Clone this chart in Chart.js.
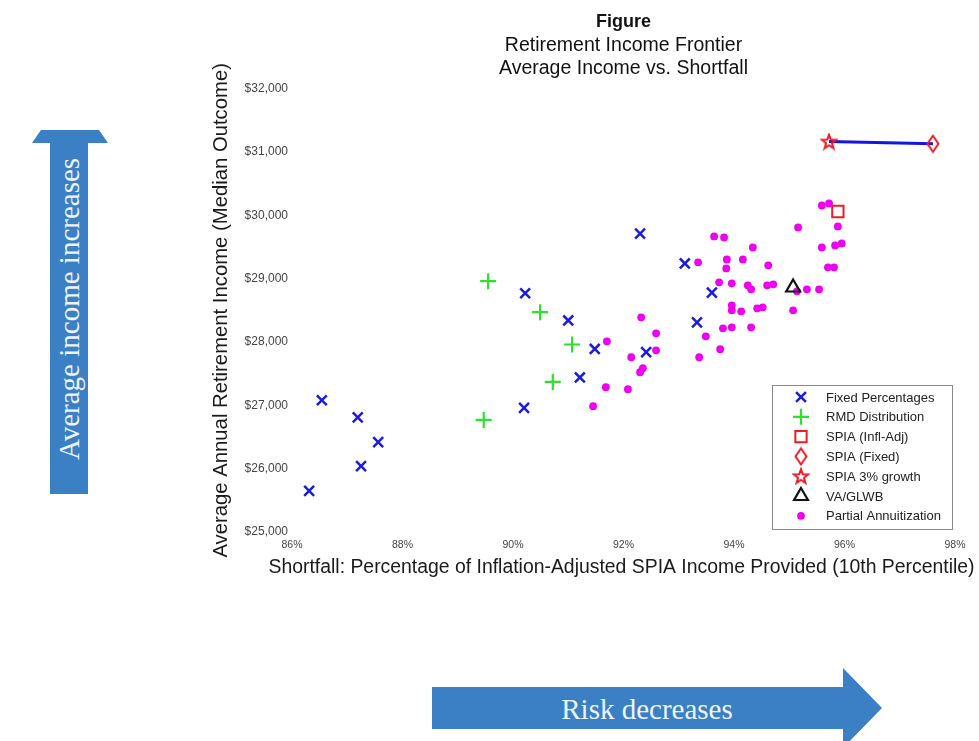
<!DOCTYPE html>
<html>
<head>
<meta charset="utf-8">
<title>Retirement Income Frontier</title>
<script src="https://cdn.jsdelivr.net/npm/chart.js"></script>
<style>
  html, body { margin: 0; padding: 0; background: #fff; }
  #wrap { position: relative; width: 979px; height: 741px; overflow: hidden; }
  #wrap svg, #wrap canvas { position: absolute; left: 0; top: 0; }
  .arrowText { font-family: "Liberation Serif", "DejaVu Serif", serif; fill: #eef4fb; }
</style>
</head>
<body>
<div id="wrap">
  <svg width="979" height="741">
    <!-- flecha vertical -->
    <polygon points="32,143 41,130 99,130 108,143 88,143 88,494 50,494 50,143" fill="#3b7fc4"/>
    <text class="arrowText" font-size="29" text-anchor="middle" dominant-baseline="central"
          transform="translate(69,309) rotate(-90)">Average income increases</text>
    <!-- flecha horizontal -->
    <polygon points="432,687 843,687 843,668 882,708 843,748 843,729 432,729" fill="#3b7fc4"/>
    <text class="arrowText" font-size="29" text-anchor="middle" dominant-baseline="central"
          x="647" y="709">Risk decreases</text>
  </svg>
  <canvas id="chart" width="979" height="741"></canvas>
</div>

<script>
// --- datos ---
const xTicks = [86, 88, 90, 92, 94, 96, 98];
const yTicks = [25000, 26000, 27000, 28000, 29000, 30000, 31000, 32000];

const fixedX = [86.54, 87.19, 87.56, 87.25, 86.31, 90.20, 90.22, 91.00, 91.21, 91.48, 92.30, 92.41, 93.11, 93.60, 93.33];
const fixedY = [27080, 26810, 26420, 26040, 25650, 26960, 28770, 28340, 27440, 27890, 29710, 27840, 29240, 28780, 28310];

const rmdX = [89.55, 90.49, 91.07, 90.72, 89.47];
const rmdY = [28960, 28470, 27960, 27370, 26770];

const inflAdjX = [95.88];
const inflAdjY = [30060];

const spiaFixedX = [97.60];
const spiaFixedY = [31130];

const growthX = [95.72];
const growthY = [31165];

const vaX = [95.07];
const vaY = [28860];

const partialX = [95.59, 95.72, 95.16, 95.88, 93.64, 93.82, 94.34, 95.59, 95.83, 95.95,
                  93.35, 93.87, 94.16, 93.86, 94.62, 95.70, 95.81, 93.73, 93.96, 94.25,
                  94.31, 94.60, 94.71, 95.14, 95.32, 95.54, 93.96, 93.96, 94.13, 94.42,
                  94.52, 95.07, 92.32, 93.80, 93.96, 94.31, 92.59, 93.49, 91.70, 92.59,
                  93.75, 92.14, 93.37, 92.35, 92.30, 91.68, 92.08, 91.45];
const partialY = [30155, 30187, 29809, 29824, 29667, 29651, 29493, 29493, 29525, 29556,
                  29257, 29304, 29304, 29162, 29210, 29178, 29178, 28942, 28926, 28894,
                  28831, 28894, 28910, 28800, 28831, 28831, 28579, 28500, 28484, 28532,
                  28547, 28500, 28390, 28216, 28232, 28232, 28137, 28090, 28011, 27869,
                  27885, 27759, 27759, 27586, 27523, 27286, 27255, 26987];

const tituloX = 'Shortfall: Percentage of Inflation-Adjusted SPIA Income Provided (10th Percentile)';

const pts = (xs, ys) => xs.map((x, i) => ({ x: x, y: ys[i] }));

Chart.defaults.font.family = '"Liberation Sans", Arial, Helvetica, sans-serif';
Chart.defaults.color = '#333';

/**
 * Marcadores propios (estrella de 5 puntas y rombo alargado, estilo MATLAB)
 */
function marcador(tipo, color) {
    const c = document.createElement('canvas');
    const g = c.getContext('2d');
    if (tipo === 'estrella') {
        c.width = 18; c.height = 18;
        g.strokeStyle = color; g.lineWidth = 2;
        g.beginPath();
        const R = 7.5, r = 3.1, cx = 9, cy = 9.6;
        for (let i = 0; i < 10; i++) {
            const ang = -Math.PI / 2 + i * Math.PI / 5;
            const rad = i % 2 === 0 ? R : r;
            const px = cx + rad * Math.cos(ang), py = cy + rad * Math.sin(ang);
            if (i === 0) g.moveTo(px, py); else g.lineTo(px, py);
        }
    } else {
        c.width = 16; c.height = 20;
        g.strokeStyle = color; g.lineWidth = 2;
        g.beginPath();
        g.moveTo(8, 2); g.lineTo(13.5, 10); g.lineTo(8, 18); g.lineTo(2.5, 10);
    }
    g.closePath();
    g.stroke();
    return c;
}

const imgEstrella = marcador('estrella', '#ee1c25');
const imgRombo = marcador('rombo', '#ee1c25');

/**
 * Titulo del eje X sin recorte de ancho (en el original sobresale del area)
 */
const tituloEjeX = {
    id: 'tituloEjeX',
    afterDraw(chart) {
        const ctx = chart.ctx;
        const a = chart.chartArea;
        ctx.save();
        ctx.fillStyle = '#1a1a1a';
        ctx.font = '19.4px "Liberation Sans", Arial, sans-serif';
        ctx.textAlign = 'center';
        ctx.textBaseline = 'middle';
        ctx.fillText(tituloX, (a.left + a.right) / 2 - 2, a.bottom + 36);
        ctx.restore();
    }
};

/**
 * Leyenda dibujada dentro del area del grafico (abajo a la derecha)
 */
const leyendaInterna = {
    id: 'leyendaInterna',
    afterDatasetsDraw(chart) {
        const ctx = chart.ctx;
        const box = { x: 772.5, y: 385.5, w: 180, h: 144 };
        ctx.save();
        ctx.fillStyle = '#fff';
        ctx.fillRect(box.x, box.y, box.w, box.h);
        ctx.strokeStyle = '#888';
        ctx.lineWidth = 1;
        ctx.strokeRect(box.x, box.y, box.w, box.h);

        const items = chart.data.datasets.filter(d => d.enLeyenda);
        items.forEach((d, i) => {
            const y = 397 + i * 19.8;
            ctx.save();
            ctx.strokeStyle = d.borderColor;
            ctx.fillStyle = d.backgroundColor;
            ctx.lineWidth = d.borderWidth;
            Chart.helpers.drawPoint(ctx, {
                pointStyle: d.pointStyle,
                radius: d.pointRadius,
                borderWidth: d.borderWidth,
                rotation: 0
            }, 801, y);
            ctx.restore();
            ctx.fillStyle = '#222';
            ctx.font = '13px "Liberation Sans", Arial, sans-serif';
            ctx.textBaseline = 'middle';
            ctx.textAlign = 'left';
            ctx.fillText(d.label, 826, y + 1);
        });
        ctx.restore();
    }
};

const ctx = document.getElementById('chart').getContext('2d');

new Chart(ctx, {
    type: 'scatter',
    data: {
        datasets: [
            {
                label: 'Fixed Percentages', enLeyenda: true,
                data: pts(fixedX, fixedY),
                pointStyle: 'crossRot', pointRadius: 7, borderWidth: 2.5,
                borderColor: '#1c1cdc', backgroundColor: '#1c1cdc'
            },
            {
                label: 'RMD Distribution', enLeyenda: true,
                data: pts(rmdX, rmdY),
                pointStyle: 'cross', pointRadius: 8, borderWidth: 2.2,
                borderColor: '#2fe02f', backgroundColor: '#2fe02f'
            },
            {
                label: 'SPIA (Infl-Adj)', enLeyenda: true,
                data: pts(inflAdjX, inflAdjY),
                pointStyle: 'rect', pointRadius: 8, borderWidth: 2,
                borderColor: '#ee1c25', backgroundColor: 'rgba(0,0,0,0)'
            },
            {
                label: 'SPIA (Fixed)', enLeyenda: true,
                data: pts(spiaFixedX, spiaFixedY),
                pointStyle: imgRombo, pointRadius: 8, borderWidth: 2,
                borderColor: '#ee1c25', backgroundColor: 'rgba(0,0,0,0)'
            },
            {
                label: 'SPIA 3% growth', enLeyenda: true,
                data: pts(growthX, growthY),
                pointStyle: imgEstrella, pointRadius: 8, borderWidth: 2,
                borderColor: '#ee1c25', backgroundColor: 'rgba(0,0,0,0)'
            },
            {
                label: 'VA/GLWB', enLeyenda: true,
                data: pts(vaX, vaY),
                pointStyle: 'triangle', pointRadius: 8, borderWidth: 2.2,
                borderColor: '#111', backgroundColor: 'rgba(0,0,0,0)'
            },
            {
                // linea azul entre SPIA 3% y SPIA fijo
                label: '',
                data: pts(growthX.concat(spiaFixedX), growthY.concat(spiaFixedY)),
                showLine: true, pointRadius: 0, borderWidth: 3,
                borderColor: '#1414e6', backgroundColor: '#1414e6'
            },
            {
                label: 'Partial Annuitization', enLeyenda: true,
                data: pts(partialX, partialY),
                pointStyle: 'circle', pointRadius: 3.9, borderWidth: 0,
                borderColor: '#f000f0', backgroundColor: '#f000f0'
            }
        ]
    },
    options: {
        responsive: false,
        animation: false,
        devicePixelRatio: 1,
        layout: { padding: { left: 200, right: 24, top: 0, bottom: 159 } },
        plugins: {
            legend: { display: false },
            tooltip: { enabled: false },
            title: {
                display: true, fullSize: false,
                text: 'Figure',
                color: '#111',
                font: { size: 18, weight: 'bold', lineHeight: 1.2 },
                padding: { top: 11, bottom: 0 }
            },
            subtitle: {
                display: true, fullSize: false,
                text: ['Retirement Income Frontier', 'Average Income vs. Shortfall'],
                color: '#111',
                font: { size: 19.5, lineHeight: 1.17 },
                padding: { top: 2, bottom: 8.4 }
            }
        },
        scales: {
            x: {
                type: 'linear',
                min: xTicks[0], max: xTicks[xTicks.length - 1],
                afterBuildTicks: s => { s.ticks = xTicks.map(v => ({ value: v })); },
                afterFit: s => { s.height = 50; },
                grid: { display: false, drawTicks: false },
                border: { display: false },
                ticks: {
                    padding: 7, color: '#444', font: { size: 10.5 },
                    callback: v => v + '%'
                },
                title: { display: false }
            },
            y: {
                type: 'linear',
                min: yTicks[0], max: yTicks[yTicks.length - 1],
                afterBuildTicks: s => { s.ticks = yTicks.map(v => ({ value: v })); },
                afterFit: s => { s.width = 92; },
                grid: { display: false, drawTicks: false },
                border: { display: false },
                ticks: {
                    padding: 4, color: '#444', font: { size: 12 },
                    callback: v => '$' + v.toLocaleString('en-US')
                },
                title: {
                    display: true,
                    text: 'Average Annual Retirement Income (Median Outcome)',
                    color: '#1a1a1a',
                    font: { size: 20.3 },
                    padding: { top: 9, bottom: 0 }
                }
            }
        }
    },
    plugins: [leyendaInterna, tituloEjeX]
});
</script>
</body>
</html>
